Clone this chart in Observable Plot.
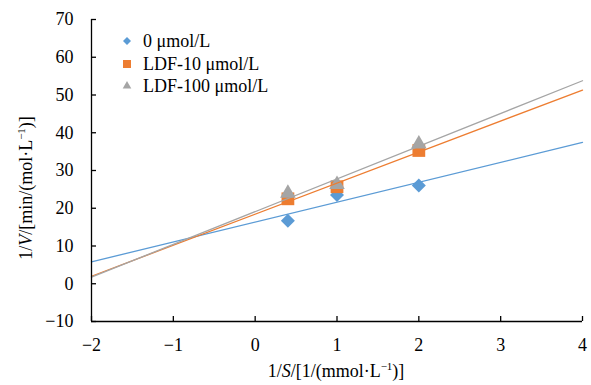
<!DOCTYPE html>
<html>
<head>
<meta charset="utf-8">
<script src="https://cdn.jsdelivr.net/npm/d3@7"></script>
<script src="https://cdn.jsdelivr.net/npm/@observablehq/plot@0.6"></script>
<style>
  body { margin: 0; background: #fff; }
  #wrap { position: relative; width: 591px; height: 385px; font-family: "Liberation Serif", serif; color: #000; }
  .lbl { position: absolute; font-size: 18px; white-space: nowrap; line-height: 22px; }
  .legsym { position: absolute; width: 20px; height: 20px; }
  .legtxt { position: absolute; font-size: 18px; line-height: 22px; white-space: nowrap; }
</style>
</head>
<body>
<div id="wrap"></div>
<script>
// ---- data ----
const seriesNames = ["0 μmol/L", "LDF-10 μmol/L", "LDF-100 μmol/L"];
const seriesColors = ["#5B9BD5", "#ED7D31", "#A5A5A5"];
const seriesSymbols = ["diamond2", "square", "triangle"];
const xValues = [0.4, 1, 2];                 // 1/S
const yBlue = [16.7, 23.5, 26.0];           // 0 μmol/L
const yOrange = [22.5, 25.7, 35.3];         // LDF-10 μmol/L
const yGray = [24.0, 26.3, 37.0];           // LDF-100 μmol/L
// linear trend lines (slope, intercept) as shown on the chart
const fitSlopes = [5.27, 8.22, 8.67];
const fitIntercepts = [16.34, 18.43, 19.1];
const xTicks = [-2, -1, 0, 1, 2, 3, 4];
const yTicks = [-10, 0, 10, 20, 30, 40, 50, 60, 70];

const ySeries = [yBlue, yOrange, yGray];
const points = [];
ySeries.forEach((ys, s) => ys.forEach((y, i) => points.push({series: seriesNames[s], x: xValues[i], y})));
const xDom = [xTicks[0], xTicks[xTicks.length - 1]];
const fits = [];
seriesNames.forEach((name, s) => xDom.forEach(x => fits.push({series: name, x, y: fitSlopes[s] * x + fitIntercepts[s]})));

const fmt = d => d < 0 ? "\u2212" + Math.abs(d) : String(d);
const font = '"Liberation Serif", serif';

const chart = Plot.plot({
  width: 591,
  height: 385,
  marginLeft: 91,
  marginRight: 9,
  marginTop: 19,
  marginBottom: 64,
  style: {fontFamily: font, fontSize: "18px", color: "#000", background: "#fff"},
  x: {domain: xDom, label: null},
  y: {domain: [yTicks[0], yTicks[yTicks.length - 1]], label: null},
  color: {domain: seriesNames, range: seriesColors},
  symbol: {domain: seriesNames, range: seriesSymbols},
  marks: [
    Plot.dot(points.filter(d => d.series === seriesNames[0]), {x: "x", y: "y", symbol: "series", fill: "series", r: 6.3}),
    Plot.dot(points.filter(d => d.series === seriesNames[1]), {x: "x", y: "y", symbol: "series", fill: "series", r: 7.2}),
    Plot.dot(points.filter(d => d.series === seriesNames[2]), {x: "x", y: "y", symbol: "series", fill: "series", r: 5.8}),
    Plot.line(fits, {x: "x", y: "y", z: "series", stroke: "series", strokeWidth: 1.3}),
    Plot.ruleY([yTicks[0]], {stroke: "#000", strokeWidth: 1.3}),
    Plot.ruleX([xTicks[0]], {stroke: "#000", strokeWidth: 1.3}),
    Plot.axisX({ticks: xTicks, tickSize: 5, dy: -5, tickFormat: () => "", label: null, strokeWidth: 1.3}),
    Plot.axisX({ticks: xTicks, tickSize: 0, tickPadding: 17, tickFormat: fmt, label: null}),
    Plot.axisY({ticks: yTicks, tickSize: 5, dx: 5, tickFormat: () => "", label: null, strokeWidth: 1.3}),
    Plot.axisY({ticks: yTicks, tickSize: 0, tickPadding: 18, tickFormat: fmt, label: null})
  ]
});

const wrap = document.getElementById("wrap");
wrap.appendChild(chart);

// axis titles
const sup = '<sup style="font-size:11px;vertical-align:7px;line-height:0">\u22121</sup>';
const xl = document.createElement("div");
xl.className = "lbl";
xl.innerHTML = '1/<i>S</i>/[1/(mmol·L' + sup + ')]';
xl.style.left = "336px"; xl.style.top = "360px"; xl.style.transform = "translateX(-50%)";
wrap.appendChild(xl);

const yl = document.createElement("div");
yl.className = "lbl";
yl.innerHTML = '1/<i>V</i>/[min/(mol·L' + sup + ')]';
yl.style.left = "26px"; yl.style.top = "188px";
yl.style.transform = "translate(-50%, -50%) rotate(-90deg)";
wrap.appendChild(yl);

// legend
const symMap = {diamond2: d3.symbolDiamond2, square: d3.symbolSquare, triangle: d3.symbolTriangle};
const legR = [3.6, 4.5, 3.2];
const legCenters = [40.5, 63.5, 86];
seriesNames.forEach((name, i) => {
  const path = d3.symbol(symMap[seriesSymbols[i]], Math.PI * legR[i] * legR[i])();
  const s = document.createElementNS("http://www.w3.org/2000/svg", "svg");
  s.setAttribute("class", "legsym");
  s.setAttribute("viewBox", "-10 -10 20 20");
  s.style.left = "117px"; s.style.top = (legCenters[i] - 10) + "px";
  s.innerHTML = `<path d="${path}" fill="${seriesColors[i]}"/>`;
  wrap.appendChild(s);
  const t = document.createElement("div");
  t.className = "legtxt";
  t.textContent = name;
  t.style.left = "143px"; t.style.top = (legCenters[i] - 11) + "px";
  wrap.appendChild(t);
});
</script>
</body>
</html>
